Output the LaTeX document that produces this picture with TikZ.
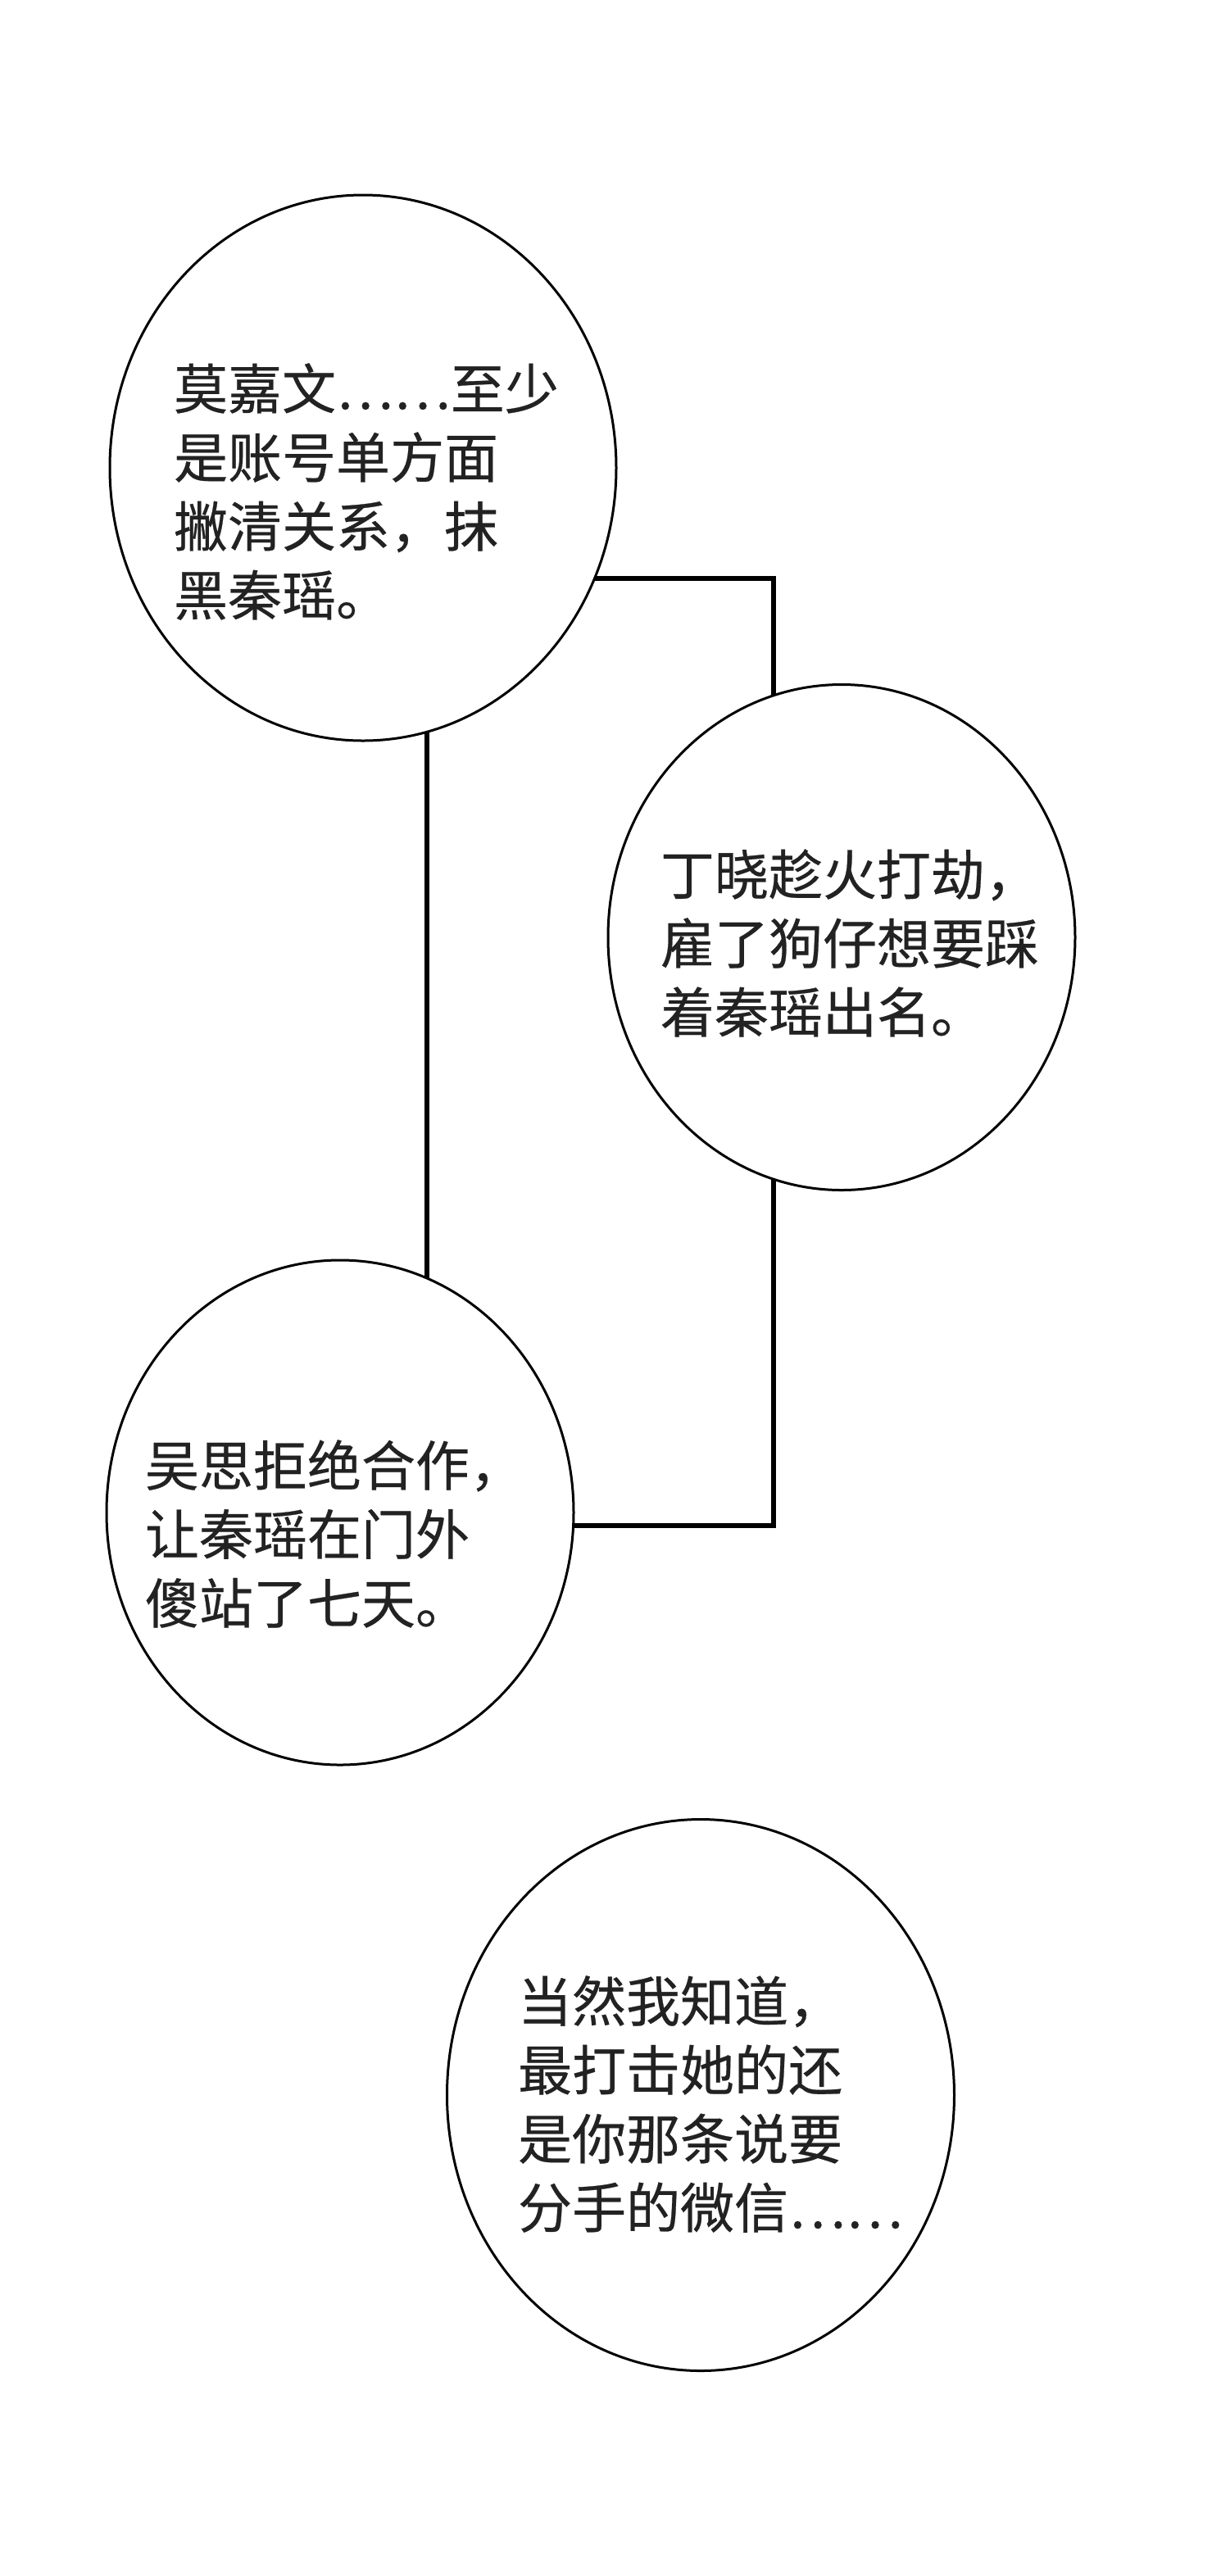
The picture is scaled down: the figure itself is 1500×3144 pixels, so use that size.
\documentclass[tikz,border=0pt]{standalone}
\usepackage{fontspec}
\setmainfont{Noto Sans CJK SC}[FakeBold=0.4]
\usepackage{tikz}
\usetikzlibrary{shapes,arrows}
\usetikzlibrary{positioning}
\usetikzlibrary{calc}
\usetikzlibrary{backgrounds}
\definecolor{myink}{RGB}{34,34,34}
\newcommand\mybubble[4]{%
  \node[mybubble,minimum width=#3,minimum height=#4] (#1) at #2 {};
}

\begin{document}
\begin{tikzpicture}[
x=0.5pt, y=-0.5pt,
mybubble/.style={
  ellipse,
  draw,
  line width=1.5pt,
  fill=white,
  inner sep=0},
mysay/.style={
  align=left,
  text=myink,
  inner sep=0,
  font=\fontsize{33pt}{42pt}\selectfont},
mylink/.style={line width=2.7pt}
]
\useasboundingbox (0,0) rectangle (1500,3144);
\mybubble{mo}{(443,571)}{309pt}{333pt}
\mybubble{ding}{(1027,1144)}{285pt}{308.5pt}
\mybubble{wu}{(415,1846)}{285pt}{308pt}
\mybubble{wechat}{(855,2557)}{309.5pt}{336.5pt}
\node[mysay] (mo text) at ([shift={(4,29)}]mo.center) {莫嘉文……至少\\是账号单方面\\撇清关系，抹\\黑秦瑶。};
\node[mysay] (ding text) at ([shift={(10,7)}]ding.center) {丁晓趁火打劫，\\雇了狗仔想要踩\\着秦瑶出名。};
\node[mysay] (wu text) at ([shift={(-7,26)}]wu.center) {吴思拒绝合作，\\让秦瑶在门外\\傻站了七天。};
\node[mysay] (wechat text) at ([shift={(12,11)}]wechat.center) {当然我知道，\\最打击她的还\\是你那条说要\\分手的微信……};
\coordinate (spine) at (521,0);
\coordinate (rail top) at (944,706);
\coordinate (rail low) at (944,1862);
\begin{pgfonlayer}{background}
\fill[white] (0,0) rectangle (1500,3144);
\draw [mylink] (mo.center -| spine) -- (wu.center -| spine);
\draw [mylink] (mo.center |- rail top) -- (rail top) -- (ding.center -| rail top);
\draw [mylink] (ding.center -| rail low) -- (rail low) -- (wu.center |- rail low);
\end{pgfonlayer}
\end{tikzpicture}
\end{document}
